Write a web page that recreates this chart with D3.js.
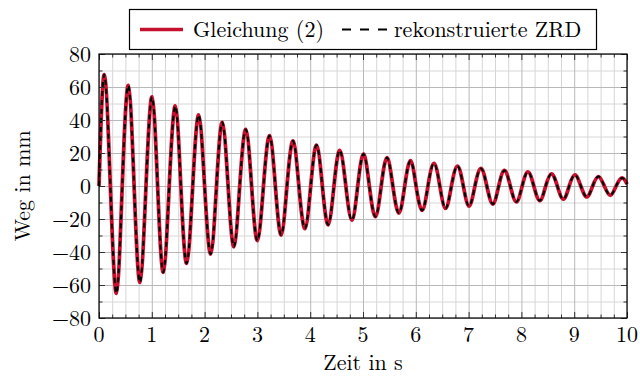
<!DOCTYPE html>
<html lang="de">
<head>
	<meta charset="UTF-8">
	<title>Weg-Zeit-Verlauf</title>
	<script src="https://d3js.org/d3.v7.min.js"></script>
	<style>
		* { margin: 0px; padding: 0px; }
		body { background: #fff; }
		svg text { font-family: 'Latin Modern Roman', 'Liberation Serif', serif; font-size: 22px; fill: #000; }
	</style>
</head>
<body>
	<svg width="640" height="376"></svg>
	<script>
		var zeit = [0, 0.10, 0.215, 0.33, 0.44, 0.555, 0.665, 0.776, 0.89, 1.004, 1.11, 1.218, 1.33, 1.445, 1.55,
			1.66, 1.775, 1.888, 2.0, 2.115, 2.225, 2.335, 2.445, 2.555, 2.665, 2.78, 2.89, 3.0, 3.115, 3.23,
			3.34, 3.45, 3.56, 3.675, 3.785, 3.9, 4.01, 4.12, 4.23, 4.34, 4.45, 4.56, 4.675, 4.79, 4.9,
			5.01, 5.12, 5.235, 5.345, 5.455, 5.565, 5.68, 5.79, 5.9, 6.005, 6.12, 6.23, 6.345, 6.455, 6.565,
			6.675, 6.79, 6.9, 7.01, 7.12, 7.235, 7.345, 7.46, 7.57, 7.68, 7.79, 7.905, 8.015, 8.125, 8.235,
			8.35, 8.46, 8.57, 8.68, 8.795, 8.905, 9.015, 9.125, 9.24, 9.35, 9.46, 9.57, 9.685, 9.795, 9.905, 10];
		var weg = [0, 67.5, 0, -65, 0, 61, 0, -58.4, 0, 54, 0, -52.3, 0, 48.5, 0,
			-46.9, 0, 43, 0, -41.2, 0, 38.6, 0, -36.8, 0, 34.3, 0, -33.1, 0, 30.5,
			0, -29.7, 0, 27.3, 0, -25.8, 0, 24.8, 0, -23.5, 0, 21.6, 0, -20.8, 0,
			19.4, 0, -18.6, 0, 17.2, 0, -16.4, 0, 15.3, 0, -14.8, 0, 13.7, 0, -13.6,
			0, 12.1, 0, -12.2, 0, 10.6, 0, -10.9, 0, 9.4, 0, -9.6, 0, 8.6, 0,
			-8.9, 0, 7.4, 0, -8.0, 0, 6.7, 0, -6.6, 0, 5.7, 0, -5.6, 0, 4.9, 1.2];

		var xTicks = [0, 1, 2, 3, 4, 5, 6, 7, 8, 9, 10];
		var yTicks = [-80, -60, -40, -20, 0, 20, 40, 60, 80];
		var xMinorTicks = d3.range(0, 10.001, 0.25).filter(function (v) { return v % 1 !== 0; });
		var yMinorTicks = [-70, -50, -30, -10, 10, 30, 50, 70];

		var serien = ["Gleichung (2)", "rekonstruierte ZRD"];

		var svg = d3.select("svg");
		var pLeft = 99, pRight = 627, pTop = 54, pBottom = 318;
		var w = pRight - pLeft, h = pBottom - pTop;

		var x = d3.scaleLinear().domain([0, 10]).range([pLeft, pRight]);
		var y = d3.scaleLinear().domain([-80, 80]).range([pBottom, pTop]);

		// Gitter
		function grid(xv, yv, color) {
			svg.append("g")
				.attr("transform", "translate(0," + pBottom + ")")
				.call(d3.axisBottom(x).tickValues(xv).tickSize(-h).tickFormat(""))
				.call(function (g) { g.select(".domain").remove(); })
				.selectAll("line").attr("stroke", color);
			svg.append("g")
				.attr("transform", "translate(" + pLeft + ",0)")
				.call(d3.axisLeft(y).tickValues(yv).tickSize(-w).tickFormat(""))
				.call(function (g) { g.select(".domain").remove(); })
				.selectAll("line").attr("stroke", color);
		}
		grid(xMinorTicks, yMinorTicks, "#d6d6d6");
		grid(xTicks, yTicks, "#b8b8b8");

		// Kurven (beide Reihen decken sich im Bild)
		var line = d3.line()
			.x(function (d, i) { return x(zeit[i]); })
			.y(function (d) { return y(d); })
			.curve(d3.curveNatural);

		svg.append("path")
			.datum(weg)
			.attr("fill", "none")
			.attr("stroke", "#c5112e")
			.attr("stroke-width", 3.8)
			.attr("d", line);

		svg.append("path")
			.datum(weg)
			.attr("fill", "none")
			.attr("stroke", "#000")
			.attr("stroke-width", 2)
			.attr("stroke-dasharray", "5,4")
			.attr("d", line);

		// Achsen mit Ticks nach innen
		function ticks(axis, tr, vals, size) {
			var g = svg.append("g")
				.attr("transform", tr)
				.call(axis.tickValues(vals).tickSize(size).tickFormat(""));
			g.select(".domain").remove();
			g.selectAll("line").attr("stroke", "#333");
		}
		ticks(d3.axisBottom(x), "translate(0," + pBottom + ")", xMinorTicks, -3.5);
		ticks(d3.axisTop(x), "translate(0," + pTop + ")", xMinorTicks, -3.5);
		ticks(d3.axisLeft(y), "translate(" + pLeft + ",0)", yMinorTicks, -3.5);
		ticks(d3.axisRight(y), "translate(" + pRight + ",0)", yMinorTicks, -3.5);
		ticks(d3.axisBottom(x), "translate(0," + pBottom + ")", xTicks, -6);
		ticks(d3.axisTop(x), "translate(0," + pTop + ")", xTicks, -6);
		ticks(d3.axisLeft(y), "translate(" + pLeft + ",0)", yTicks, -6);
		ticks(d3.axisRight(y), "translate(" + pRight + ",0)", yTicks, -6);

		svg.append("rect")
			.attr("x", pLeft).attr("y", pTop)
			.attr("width", w).attr("height", h)
			.attr("fill", "none").attr("stroke", "#000").attr("stroke-width", 1.2);

		// Beschriftung
		svg.append("g").selectAll("text")
			.data(xTicks).enter().append("text")
			.attr("x", function (d) { return x(d); })
			.attr("y", 342)
			.attr("text-anchor", "middle")
			.text(function (d) { return d; });

		svg.append("g").selectAll("text")
			.data(yTicks).enter().append("text")
			.attr("x", 91)
			.attr("y", function (d) { return y(d) + 7.5; })
			.attr("text-anchor", "end")
			.text(function (d) { return d < 0 ? "\u2212" + Math.abs(d) : d; });

		svg.append("text")
			.attr("x", (pLeft + pRight) / 2).attr("y", 370)
			.attr("text-anchor", "middle")
			.text("Zeit in s");

		svg.append("text")
			.attr("transform", "translate(30," + y(0) + ") rotate(-90)")
			.attr("text-anchor", "middle")
			.text("Weg in mm");

		// Legende
		var lg = svg.append("g");
		lg.append("rect")
			.attr("x", 129.5).attr("y", 9.5).attr("width", 467).attr("height", 40)
			.attr("fill", "#fff").attr("stroke", "#000").attr("stroke-width", 1.2);
		lg.append("line")
			.attr("x1", 140).attr("x2", 183).attr("y1", 29.5).attr("y2", 29.5)
			.attr("stroke", "#c5112e").attr("stroke-width", 3.6);
		lg.append("text")
			.attr("x", 193).attr("y", 37)
			.text(serien[0]);
		lg.append("line")
			.attr("x1", 342).attr("x2", 387).attr("y1", 29.5).attr("y2", 29.5)
			.attr("stroke", "#000").attr("stroke-width", 2.2)
			.attr("stroke-dasharray", "9,9");
		lg.append("text")
			.attr("x", 394).attr("y", 37)
			.text(serien[1]);
	</script>
</body>
</html>
